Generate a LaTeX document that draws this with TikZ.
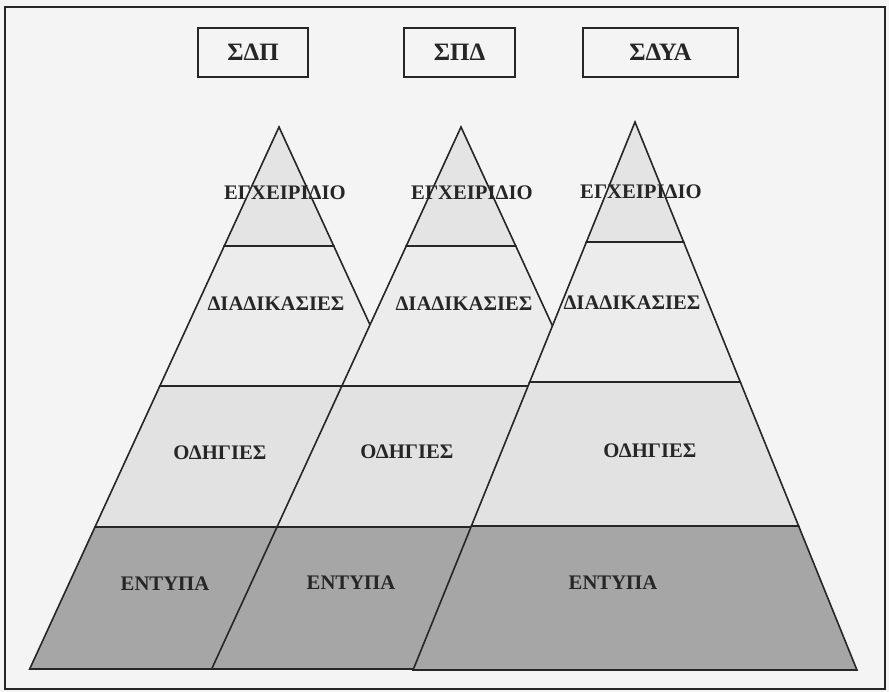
\documentclass[tikz,border=0pt]{standalone}
\usepackage{fontspec}
\setmainfont{Liberation Serif}
\begin{document}
\definecolor{paper}{HTML}{F4F4F4}
\definecolor{ink}{HTML}{262626}
\definecolor{manualfill}{HTML}{E4E4E4}
\definecolor{procfill}{HTML}{ECECEC}
\definecolor{guidefill}{HTML}{E2E2E2}
\definecolor{formfill}{HTML}{A6A6A6}
\tikzset{
  edge/.style={draw=ink, line width=1.6pt, line join=miter},
  toplayer/.style={edge, fill=manualfill},
  proclayer/.style={edge, fill=procfill},
  guidelayer/.style={edge, fill=guidefill},
  formlayer/.style={edge, fill=formfill},
  lbl/.style={inner sep=0pt, text=ink, font=\fontsize{20.7}{21}\selectfont\bfseries},
  sysbox/.style={edge, fill=paper, minimum height=49pt, inner sep=0pt,
    text=ink, font=\fontsize{25}{25}\selectfont\bfseries}
}
% Layered pyramid: apex x, apex y, half-width per unit height,
% three divider heights, base height
\newcommand{\docpyramid}[7]{%
  \pgfmathsetmacro\wdA{#3*(#4-#2)}%
  \pgfmathsetmacro\wdB{#3*(#5-#2)}%
  \pgfmathsetmacro\wdC{#3*(#6-#2)}%
  \pgfmathsetmacro\wdD{#3*(#7-#2)}%
  \path[toplayer] (#1,#2) -- (#1+\wdA,#4) -- (#1-\wdA,#4) -- cycle;
  \path[proclayer] (#1-\wdA,#4) -- (#1+\wdA,#4) -- (#1+\wdB,#5) -- (#1-\wdB,#5) -- cycle;
  \path[guidelayer] (#1-\wdB,#5) -- (#1+\wdB,#5) -- (#1+\wdC,#6) -- (#1-\wdC,#6) -- cycle;
  \path[formlayer] (#1-\wdC,#6) -- (#1+\wdC,#6) -- (#1+\wdD,#7) -- (#1-\wdD,#7) -- cycle;
}
\begin{tikzpicture}[x=1pt, y=-1pt]
  \useasboundingbox (0,0) rectangle (889,692);
  \fill[paper] (0,0) rectangle (889,692);
  % outer frame
  \draw[ink, line width=1.6pt] (5,7) rectangle (885,689);

  % system labels
  \node[sysbox, minimum width=110pt] (sdp) at (253,52.5) {ΣΔΠ};
  \node[sysbox, minimum width=111pt] (spd) at (459.5,52.5) {ΣΠΔ};
  \node[sysbox, minimum width=155pt] (sdya) at (660.5,52.5) {ΣΔΥΑ};

  % first pyramid
  \docpyramid{279}{127}{0.46}{246}{386}{527}{669}
  \node[lbl] (m1) at (285,193) {ΕΓΧΕΙΡΙΔΙΟ};
  \node[lbl] (p1) at (276,304) {ΔΙΑΔΙΚΑΣΙΕΣ};
  \node[lbl] (g1) at (220,453) {ΟΔΗΓΙΕΣ};
  \node[lbl] (f1) at (165,584) {ΕΝΤΥΠΑ};

  % second pyramid
  \docpyramid{461}{127}{0.46}{246}{386}{527}{669}
  \node[lbl] (m2) at (472,193) {ΕΓΧΕΙΡΙΔΙΟ};
  \node[lbl] (p2) at (464,304) {ΔΙΑΔΙΚΑΣΙΕΣ};
  \node[lbl] (g2) at (407,452) {ΟΔΗΓΙΕΣ};
  \node[lbl] (f2) at (351,583) {ΕΝΤΥΠΑ};

  % third pyramid
  \docpyramid{635}{122}{0.405}{242}{382}{526}{670}
  \node[lbl] (m3) at (641,192) {ΕΓΧΕΙΡΙΔΙΟ};
  \node[lbl] (p3) at (632,303) {ΔΙΑΔΙΚΑΣΙΕΣ};
  \node[lbl] (g3) at (650,451) {ΟΔΗΓΙΕΣ};
  \node[lbl] (f3) at (613,583) {ΕΝΤΥΠΑ};
\end{tikzpicture}
\end{document}
